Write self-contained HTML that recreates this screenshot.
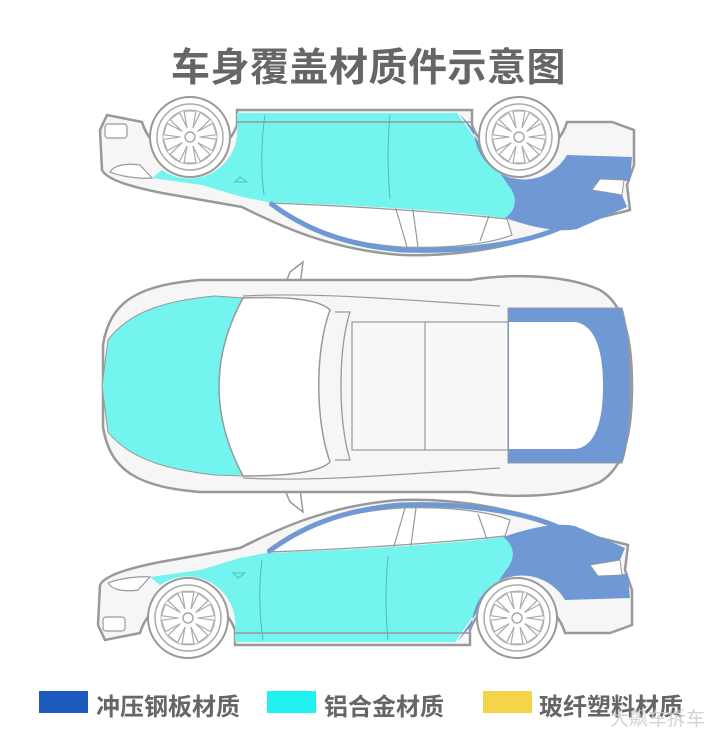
<!DOCTYPE html>
<html><head><meta charset="utf-8"><style>
html,body{margin:0;padding:0;background:#fff;}
body{width:720px;height:738px;overflow:hidden;position:relative;font-family:"Liberation Sans","Noto Sans CJK SC",sans-serif;}
.t{position:absolute;color:#666;font-weight:bold;white-space:nowrap;}
.b{position:absolute;width:49px;height:22px;top:691px;}
</style></head><body>
<svg width="720" height="738" style="position:absolute;left:0;top:0">
<defs>
<g id="wheel">
<circle r="40" fill="#fff" stroke="#999" stroke-width="2"/>
<circle r="33" fill="#fff" stroke="#aaa" stroke-width="1.5"/>
<circle r="27" fill="none" stroke="#bbb" stroke-width="1"/>
<g stroke="#aaa" stroke-width="1.2" fill="none">
<path d="M-3,-9 L-6,-26 L6,-26 L3,-9" transform="rotate(0)"/>
<path d="M-3,-9 L-6,-26 L6,-26 L3,-9" transform="rotate(36)"/>
<path d="M-3,-9 L-6,-26 L6,-26 L3,-9" transform="rotate(72)"/>
<path d="M-3,-9 L-6,-26 L6,-26 L3,-9" transform="rotate(108)"/>
<path d="M-3,-9 L-6,-26 L6,-26 L3,-9" transform="rotate(144)"/>
<path d="M-3,-9 L-6,-26 L6,-26 L3,-9" transform="rotate(180)"/>
<path d="M-3,-9 L-6,-26 L6,-26 L3,-9" transform="rotate(216)"/>
<path d="M-3,-9 L-6,-26 L6,-26 L3,-9" transform="rotate(252)"/>
<path d="M-3,-9 L-6,-26 L6,-26 L3,-9" transform="rotate(288)"/>
<path d="M-3,-9 L-6,-26 L6,-26 L3,-9" transform="rotate(324)"/>
</g>
<circle r="5" fill="#fff" stroke="#999" stroke-width="1.2"/>
</g>
<g id="side">
<!-- body -->
<path d="M100,585 C105,575 130,568 160,562 L240,548 C280,528 330,505 400,500 C460,498 520,510 560,528 L628,545 L625,570 L632,590 L632,625 L610,633 L565,633 A50,50 0 0 0 470,630 L470,645 L235,645 L235,630 A50,50 0 0 0 140,633 L105,640 L98,625 Z" fill="#f6f6f6" stroke="#999" stroke-width="2.5"/>
<!-- windows -->
<path d="M268,552 C300,528 340,512 400,508 C450,506 490,512 510,520 L505,536 C440,543 350,549 268,552 Z" fill="#fff" stroke="#999" stroke-width="1.2"/>
<path d="M392,553 L405,508 M410,552 L416,508 M488,542 L478,514" stroke="#999" stroke-width="1.2"/>
<!-- cyan -->
<path d="M150,577 L200,570 L240,558 L266,553 C350,550 440,545 503,537 C516,546 515,560 506,570 L455,642 L235,642 L235,630 A48,48 0 0 0 160,585 Z" fill="#74f4ef"/>
<!-- blue -->
<path d="M503,537 C530,528 555,522 575,526 L625,548 L620,560 L598,566 L600,574 L628,574 L630,598 L565,600 A50,50 0 0 0 472,625 L457,642 L506,570 C515,560 516,546 503,537 Z" fill="#6f98d4"/>
<path d="M268,552 C300,528 340,510 400,505 C460,503 520,510 560,528" fill="none" stroke="#6f98d4" stroke-width="5"/>
<path d="M262,560 C258,590 260,620 263,640 M388,556 C385,590 386,620 388,640" stroke="#4bbdbd" stroke-width="1" fill="none"/>
<path d="M233,573 L245,573 L238,578 Z" fill="none" stroke="#4bbdbd" stroke-width="1"/>
<path d="M235,633 L470,633" stroke="#999" stroke-width="1.5"/>
<!-- headlight -->
<path d="M108,583 C120,578 140,576 150,577 L138,590 C125,592 112,590 108,583 Z" fill="#fff" stroke="#999" stroke-width="1.2"/>
<rect x="103" y="617" width="22" height="14" rx="3" fill="#fff" stroke="#999" stroke-width="1.2"/>
<path d="M590,565 L620,560 L622,575 L598,576 Z" fill="#fff" stroke="#999" stroke-width="1"/>
<use href="#wheel" x="188" y="618"/>
<use href="#wheel" x="517" y="618"/>
</g>
</defs>
<use href="#side"/>
<use href="#side" transform="matrix(1,0,0,-1,2,755)"/>
<!-- top view -->
<path d="M300,285 L303,262 L290,272 L285,285 Z M300,490 L303,512 L290,502 L285,490 Z" fill="#fff" stroke="#999" stroke-width="1.5"/>
<path d="M103,345 C110,300 140,285 200,280 L470,280 C500,275 560,272 600,290 C625,305 632,340 632,386 C632,432 625,467 600,482 C560,500 500,497 470,492 L200,492 C140,487 110,472 103,427 Z" fill="#f6f6f6" stroke="#999" stroke-width="2.5"/>
<path d="M243,298 Q195,386 243,476 L215,475 C170,470 130,460 108,432 L102,386 L108,340 C130,310 170,300 215,296 Z" fill="#74f4ef" stroke="#999" stroke-width="1"/>
<path d="M243,298 C290,296 320,300 330,310 C315,350 315,420 330,462 C320,472 290,476 243,476 Q195,386 243,298 Z" fill="#fff" stroke="#999" stroke-width="1.5"/>
<path d="M335,312 L350,312 C338,350 338,420 350,460 L335,460" fill="none" stroke="#999" stroke-width="1.3"/>
<rect x="352" y="322" width="156" height="128" fill="#f8f8f8" stroke="#999" stroke-width="1.2"/>
<line x1="425" y1="322" x2="425" y2="450" stroke="#999" stroke-width="1.2"/>
<path d="M243,296 C320,292 400,300 500,306 M243,478 C320,482 400,474 500,468" fill="none" stroke="#999" stroke-width="1.2"/>
<path d="M508,308 L622,308 C632,340 634,430 622,463 L508,463 Z" fill="#6f98d4" stroke="#999" stroke-width="1"/>
<path d="M509,322 L575,322 C595,325 603,350 603,386 C603,422 595,447 575,449 L509,449 Z" fill="#fff"/>
</svg>
<div class="t" style="left:171px;top:37px;font-size:39px;letter-spacing:0.5px;">车身覆盖材质件示意图</div>
<div class="b" style="left:39px;background:#1d5bbf"></div>
<div class="t" style="left:96px;top:687px;font-size:24px;">冲压钢板材质</div>
<div class="b" style="left:267px;background:#1ff2ef"></div>
<div class="t" style="left:324px;top:687px;font-size:24px;">铝合金材质</div>
<div class="b" style="left:483px;background:#f4d548"></div>
<div class="t" style="left:539px;top:687px;font-size:24px;">玻纤塑料材质</div>
<div class="t" style="left:610px;top:704px;font-size:19px;color:rgba(200,200,200,0.8);font-weight:normal;">大飙车拆车</div>
</body></html>
